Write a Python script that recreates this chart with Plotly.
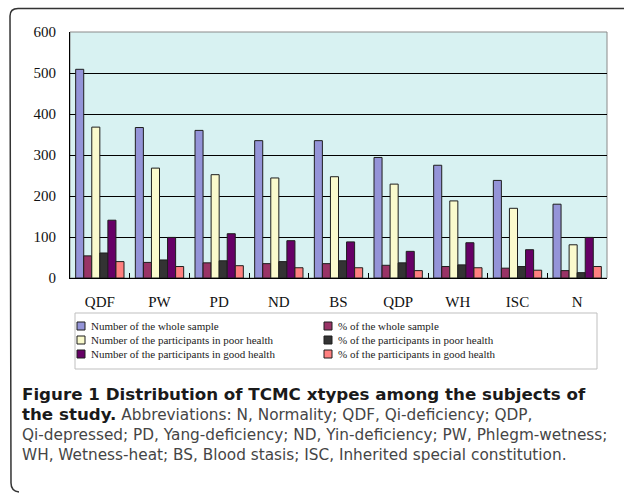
import plotly.graph_objects as go

# ---------------- data ----------------
categories = ["QDF", "PW", "PD", "ND", "BS", "QDP", "WH", "ISC", "N"]
whole_sample = [509, 367, 360, 335, 335, 294, 275, 238, 180]
pct_whole_sample = [54, 38, 37, 35, 35, 31, 28, 24, 18]
poor_health = [368, 268, 252, 244, 247, 229, 188, 170, 81]
pct_poor_health = [61, 44, 42, 40, 42, 37, 32, 28, 13]
good_health = [141, 99, 108, 91, 88, 65, 86, 69, 99]
pct_good_health = [40, 28, 30, 25, 25, 18, 25, 19, 28]

series_names = [
    "Number of the whole sample",
    "% of the whole sample",
    "Number of the participants in poor health",
    "% of the participants in poor health",
    "Number of the participants in good health",
    "% of the participants in good health",
]
series_values = [whole_sample, pct_whole_sample, poor_health,
                 pct_poor_health, good_health, pct_good_health]
series_colors = ["#9494d8", "#993366", "#fafacd", "#333333", "#660066", "#ff8080"]
y_tick_values = [0, 100, 200, 300, 400, 500, 600]

BOLD = "<span style='font-size:16.7px;color:#1a1a1a'><b>{}</b></span>"
REG = "<span style='font-size:15.3px;color:#454545'>{}</span>"
caption_lines = [
    BOLD.format("Figure 1 Distribution of TCMC xtypes among the subjects of"),
    BOLD.format("the study.") + " " + REG.format("Abbreviations: N, Normality; QDF, Qi-deficiency; QDP,"),
    REG.format("Qi-depressed; PD, Yang-deficiency; ND, Yin-deficiency; PW, Phlegm-wetness;"),
    REG.format("WH, Wetness-heat; BS, Blood stasis; ISC, Inherited special constitution."),
]

# ---------------- layout geometry (pixels) ----------------
W, H = 625, 494
L, R, T, B = 70, 18, 32, 216
PWID = W - L - R
PHGT = H - T - B


def px(x):
    return (x - L) / PWID


def py(y):
    return 1 - (y - T) / PHGT


SERIF = "Liberation Serif, Times New Roman, serif"
SANS = "DejaVu Sans, sans-serif"

fig = go.Figure()
for name, vals, col in zip(series_names, series_values, series_colors):
    fig.add_trace(go.Bar(
        x=categories, y=vals, name=name,
        marker=dict(color=col, line=dict(color="#1e1e1e", width=1)),
        showlegend=False,
    ))

shapes = []
annotations = []

# plot-area border (gray)
shapes.append(dict(type="rect", xref="paper", yref="paper", x0=0, x1=1, y0=0, y1=1,
                   line=dict(color="#8a8a8a", width=1), layer="below"))

# outer figure frame with rounded corners
frame = (f"M {px(624)},{py(8.5)} L {px(18)},{py(8.5)} Q {px(10)},{py(8.5)} {px(10)},{py(16)} "
         f"L {px(11)},{py(483)} Q {px(11)},{py(491)} {px(19)},{py(492)}")
shapes.append(dict(type="path", xref="paper", yref="paper", path=frame,
                   line=dict(color="#333333", width=1.5)))

# legend box
shapes.append(dict(type="rect", xref="paper", yref="paper",
                   x0=px(75), x1=px(597), y0=py(369), y1=py(313),
                   line=dict(color="#bfbfbf", width=1)))
col_x = [77, 324]
row_y = [326, 340, 354]
for i, (name, col) in enumerate(zip(series_names, series_colors)):
    cx = col_x[i % 2]
    cy = row_y[i // 2]
    shapes.append(dict(type="rect", xref="paper", yref="paper",
                       x0=px(cx), x1=px(cx + 8), y0=py(cy + 4), y1=py(cy - 4),
                       fillcolor=col, line=dict(color="#1e1e1e", width=1)))
    annotations.append(dict(xref="paper", yref="paper", x=px(cx + 12), y=py(cy),
                            xanchor="left", yanchor="middle", showarrow=False,
                            text=name, font=dict(family=SERIF, size=11, color="#222222")))

# caption: one multi-line text block (line pitch = 1.3 x base size ~ 20 px)
annotations.append(dict(xref="paper", yref="paper", x=px(20), y=py(424),
                        xanchor="left", yanchor="middle", align="left", showarrow=False,
                        text="<br>".join(caption_lines),
                        font=dict(family=SANS, size=15.4, color="#1a1a1a")))

fig.update_layout(
    width=W, height=H,
    margin=dict(l=L, r=R, t=T, b=B, pad=0),
    paper_bgcolor="white",
    plot_bgcolor="#d8f2f2",
    barmode="group",
    bargap=0.19,
    bargroupgap=0,
    showlegend=False,
    shapes=shapes,
    annotations=annotations,
    xaxis=dict(
        type="category",
        showline=True, linecolor="black", linewidth=1,
        ticks="inside", tickson="boundaries", ticklen=5, tickcolor="black", tickwidth=1,
        ticklabelstandoff=10,
        showgrid=False, zeroline=False,
        tickfont=dict(family=SERIF, size=15, color="#111111"),
    ),
    yaxis=dict(
        range=[0, 600], tickvals=y_tick_values,
        showline=True, linecolor="black", linewidth=1,
        showgrid=True, gridcolor="black", gridwidth=1,
        zeroline=False, ticks="",
        ticklabelstandoff=10,
        tickfont=dict(family=SERIF, size=15, color="#111111"),
    ),
)

fig.write_html("out.html", config={"displayModeBar": False},
               post_script="document.body.style.margin='0px';")
